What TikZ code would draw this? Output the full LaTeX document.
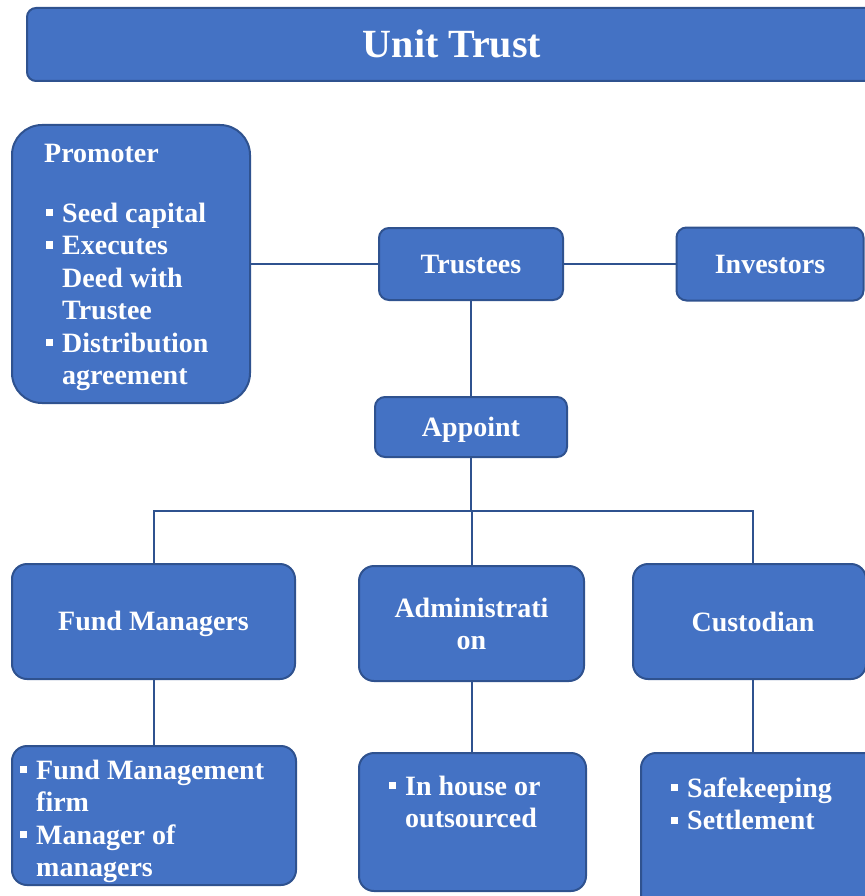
\documentclass[tikz,border=0pt]{standalone}
\usepackage{fontspec}
\setmainfont{Liberation Serif}
\definecolor{boxfill}{HTML}{4472C4}
\definecolor{boxline}{HTML}{2F528F}
\newcommand{\brk}{\hfil\break}
\newcommand{\bitem}[1]{\par\hangindent=16pt\hangafter=1\noindent\makebox[16pt][l]{\rule[6pt]{7pt}{7pt}}#1}
\newcommand{\blist}[2]{\parbox[t]{#1}{\raggedright #2}}
\begin{document}
\begin{tikzpicture}[x=1pt,y=-1pt,
  box/.style={draw=boxline, line width=2pt, fill=boxfill, text=white, inner sep=0pt,
    font=\fontsize{28}{32.5}\selectfont\bfseries, align=center, text height=18pt, text depth=0pt},
  txt/.style={text=white, inner sep=0pt, font=\fontsize{28}{32.5}\selectfont\bfseries, anchor=base west},
  conn/.style={draw=boxline, line width=2pt}]
\useasboundingbox (0,0) rectangle (864,896);
% boxes
\node[box, rounded corners=9pt, minimum width=850, minimum height=73, text height=27pt,
  font=\fontsize{40}{44}\selectfont\bfseries] (title) at (452,44.5) {Unit Trust};
\node[box, rounded corners=30pt, minimum width=238, minimum height=278] (promoter) at (131,264) {};
\node[box, rounded corners=10pt, minimum width=184, minimum height=72] (trustees) at (471,264) {Trustees};
\node[box, rounded corners=10pt, minimum width=187, minimum height=73] (investors) at (770,264) {Investors};
\node[box, rounded corners=10pt, minimum width=192, minimum height=60] (appoint) at (471,427) {Appoint};
\node[box, rounded corners=15pt, minimum width=283, minimum height=115] (fm) at (153.5,621.5) {Fund Managers};
\node[box, rounded corners=15pt, minimum width=225, minimum height=115] (admin) at (471.5,623.5) {};
\node[box, rounded corners=15pt, minimum width=233, minimum height=115] (cust) at (749.5,621.5) {};
\node[box, rounded corners=15pt, minimum width=284, minimum height=139] (fmsub) at (154,815.5) {};
\node[box, rounded corners=15pt, minimum width=227, minimum height=138] (adminsub) at (472.5,822) {};
\node[box, rounded corners=15pt, minimum width=240, minimum height=160] (custsub) at (761,833) {};
% texts inside boxes
\node[txt, anchor=base] (admintitle) at (471.5,617)
  {\parbox[t]{220pt}{\centering Administrati\\on}};
\node[txt, anchor=base] (custtitle) at (753,631) {Custodian};
\node[txt] (promotertext) at (46,163)
  {\blist{200pt}{\hspace*{-2pt}Promoter\par\vspace{26.5pt}\bitem{Seed capital}\bitem{Executes\brk Deed with\brk Trustee}\bitem{Distribution\brk agreement}}};
\node[txt] (fmtext) at (20,779)
  {\blist{270pt}{\bitem{Fund Management\brk firm}\bitem{Manager of\brk managers}}};
\node[txt] (admintext) at (389,795)
  {\blist{190pt}{\bitem{In house or\brk outsourced}}};
\node[txt] (custtext) at (671,797)
  {\blist{190pt}{\bitem{Safekeeping}\bitem{Settlement}}};
% connectors
\coordinate (busy) at (0,511);
\draw[conn] (promoter.east) -- (trustees.west);
\draw[conn] (trustees.east) -- (investors.west);
\draw[conn] (trustees.south) -- (appoint.north);
\draw[conn] (appoint.south) -- (appoint.south |- busy);
\draw[conn] (fm.north) -- (fm.north |- busy) -- (custtitle.base |- busy) -- (custtitle.base |- cust.north);
\draw[conn] (admin.north) -- (admin.north |- busy);
\draw[conn] (fm.south) -- (fmsub.north -| fm.south);
\draw[conn] (admin.south) -- (adminsub.north -| admin.south);
\draw[conn] (custtitle.base |- cust.south) -- (custtitle.base |- custsub.north);
\end{tikzpicture}
\end{document}
